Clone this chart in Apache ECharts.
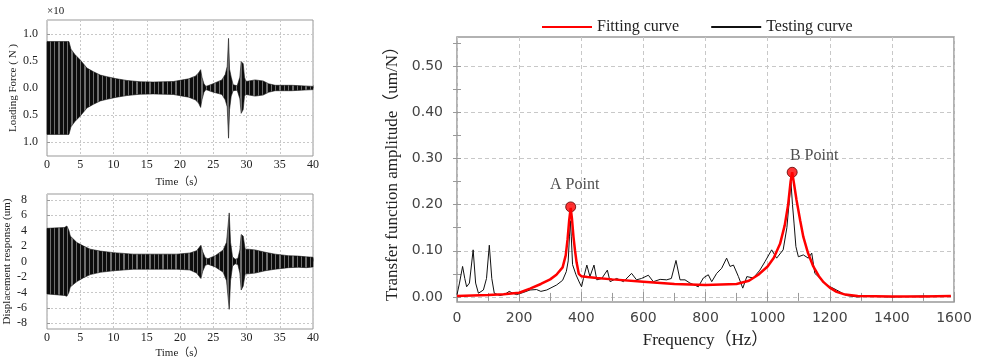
<!DOCTYPE html>
<html>
<head>
<meta charset="utf-8">
<script src="https://cdn.jsdelivr.net/npm/echarts@6/dist/echarts.min.js"></script>
<style>
  html, body { margin: 0; padding: 0; background: #fff; }
  #chart { width: 983px; height: 360px; }
</style>
</head>
<body>
<div id="chart"></div>
<script>
// loading force envelope (x10 N)
const forceTime = [0, 3.3, 3.6, 4.2, 5, 6, 7, 8, 9, 10.5, 12, 14, 16, 19, 21.3, 22.3, 22.8, 23.1, 23.3, 23.6,
  23.9, 24.8, 26.3, 26.8, 27.1, 27.3, 27.45, 27.7, 28.0, 28.6, 29.0, 29.2, 29.5, 29.7, 29.9, 31.3, 32.5, 33.3, 34.3, 36.8, 40]
const forceUpper = [0.86, 0.86, 0.72, 0.62, 0.52, 0.37, 0.30, 0.24, 0.21, 0.17, 0.14, 0.115, 0.11, 0.12, 0.17, 0.22, 0.28, 0.34, 0.2, 0.08,
  0.03, 0.07, 0.15, 0.25, 0.4, 0.92, 0.35, 0.2, 0.06, 0.04, 0.2, 0.49, 0.45, 0.2, 0.12, 0.15, 0.13, 0.08, 0.05, 0.05, 0.03]
const forceLower = [-0.86, -0.86, -0.72, -0.62, -0.52, -0.37, -0.30, -0.24, -0.21, -0.17, -0.14, -0.115, -0.11, -0.12, -0.17, -0.22, -0.28, -0.36, -0.22, -0.08,
  -0.03, -0.07, -0.12, -0.22, -0.35, -0.93, -0.4, -0.15, -0.05, -0.04, -0.2, -0.47, -0.4, -0.15, -0.12, -0.15, -0.13, -0.08, -0.05, -0.05, -0.03]

// displacement response envelope (um), lower-left panel
const dispTime = [0, 2.6, 3.0, 3.3, 3.5, 4.5, 5.5, 6.5, 8, 10, 13, 16.5, 19.5, 21.5, 22.5, 23.15, 23.4, 23.8, 24.2, 25.3,
  26.5, 27.0, 27.4, 27.6, 27.9, 28.3, 28.7, 29.0, 29.2, 29.5, 29.8, 30.2, 31.3, 32.8, 34.3, 36.3, 37.8, 39, 40]
const dispUpper = [4.3, 4.4, 4.6, 4.0, 3.3, 2.45, 2.0, 1.6, 1.35, 1.15, 0.95, 0.95, 0.95, 1.1, 1.4, 2.1, 1.3, 0.5, 0.35, 0.75,
  1.5, 2.5, 6.3, 2.5, 0.6, 0.3, 0.4, 1.5, 3.5, 3.3, 1.6, 1.6, 1.5, 1.2, 0.95, 0.75, 0.7, 0.6, 0.55]
const dispLower = [-4.2, -4.4, -4.5, -4.0, -3.3, -2.6, -2.1, -1.7, -1.4, -1.2, -1.0, -1.0, -1.0, -1.1, -1.5, -2.2, -1.3, -0.5, -0.35, -0.7,
  -1.4, -2.5, -6.2, -2.5, -0.6, -0.3, -0.4, -1.5, -3.7, -3.2, -1.6, -1.6, -1.5, -1.2, -1.0, -0.8, -0.75, -0.8, -0.7]

// transfer function (um/N) vs frequency (Hz)
const testFreq = [0, 8, 18, 25, 31, 40, 52, 60, 69, 85,
  95, 104, 112, 120, 138, 155, 168, 180, 192, 215,
  235, 256, 270, 289, 321, 340, 352, 358, 362, 365,
  368, 372, 383, 395, 401, 407, 418, 428, 441, 450,
  466, 484, 493, 514, 536, 562, 578, 594, 616, 632,
  654, 675, 690, 705, 718, 734, 750, 777, 793, 809,
  820, 836, 852, 868, 879, 890, 906, 920, 933, 954,
  975, 992, 1013, 1029, 1050, 1062, 1070, 1075, 1080, 1085,
  1091, 1099, 1115, 1131, 1142, 1152, 1168, 1190, 1222, 1254,
  1287, 1308, 1350, 1400, 1450, 1500, 1540, 1566, 1590]
const testAmp = [0.005, 0.03, 0.066, 0.04, 0.022, 0.03, 0.102, 0.03, 0.008, 0.015,
  0.04, 0.112, 0.04, 0.008, 0.003, 0.006, 0.012, 0.008, 0.005, 0.01,
  0.015, 0.016, 0.012, 0.015, 0.026, 0.036, 0.055, 0.078, 0.13, 0.165,
  0.13, 0.07, 0.048, 0.03, 0.022, 0.04, 0.069, 0.044, 0.069, 0.037,
  0.04, 0.058, 0.033, 0.04, 0.033, 0.051, 0.037, 0.04, 0.047, 0.033,
  0.038, 0.037, 0.04, 0.079, 0.037, 0.037, 0.03, 0.022, 0.041, 0.048,
  0.033, 0.051, 0.062, 0.084, 0.066, 0.069, 0.044, 0.019, 0.044, 0.041,
  0.058, 0.077, 0.102, 0.084, 0.102, 0.15, 0.21, 0.25, 0.2, 0.16,
  0.109, 0.087, 0.091, 0.084, 0.095, 0.051, 0.041, 0.026, 0.015, 0.003,
  0.0, 0.001, 0.001, 0.0, 0.001, 0.002, 0.001, 0.003, 0.001]

const fitFreq = [0, 50, 100, 150, 200, 235, 270, 300, 320, 340,
  350, 356, 361, 366, 370, 375, 380, 385, 392, 400,
  420, 450, 500, 600, 700, 800, 900, 940, 970, 1000,
  1020, 1040, 1055, 1066, 1074, 1079, 1085, 1093, 1105, 1115,
  1130, 1147, 1165, 1180, 1200, 1222, 1250, 1290, 1400, 1500, 1590]
const fitAmp = [0.002, 0.003, 0.004, 0.006, 0.009, 0.018, 0.028, 0.038, 0.048, 0.064,
  0.09, 0.125, 0.165, 0.193, 0.17, 0.13, 0.1, 0.075, 0.05, 0.045,
  0.043, 0.041, 0.038, 0.033, 0.028, 0.026, 0.028, 0.035, 0.048, 0.066,
  0.085, 0.115, 0.155, 0.2, 0.25, 0.27, 0.245, 0.21, 0.165, 0.13,
  0.095, 0.066, 0.045, 0.032, 0.02, 0.011, 0.005, 0.002, 0.001, 0.001, 0.002]

const peakNames = ['A Point', 'B Point']
const peakFreq = [366, 1079]
const peakAmp = [0.195, 0.27]

// tick values
const forceTicks = [-1, -0.5, 0, 0.5, 1]
const dispTicks = [-8, -6, -4, -2, 0, 2, 4, 6, 8]
const ampTicks = [0, 0.1, 0.2, 0.3, 0.4, 0.5]
const ampMinorTicks = [0, 0.05, 0.1, 0.15, 0.2, 0.25, 0.3, 0.35, 0.4, 0.45, 0.5, 0.55]

const SERIF = '"Liberation Serif", "Noto Sans CJK SC", serif'
const SANS = '"DejaVu Sans", sans-serif'

// striped fill so the dense oscillation reads like the original trace
function stripes() {
  const c = document.createElement('canvas')
  c.width = 13
  c.height = 4
  const g = c.getContext('2d')
  g.fillStyle = '#0c0c0c'
  g.fillRect(0, 0, 13, 4)
  g.fillStyle = '#6e6e6e'
  g.fillRect(2, 0, 1, 4)
  g.fillRect(6, 0, 2, 4)
  g.fillRect(11, 0, 1, 4)
  return c
}
const stripeFill = { image: stripes(), repeat: 'repeat' }

function envelope(xIdx, yIdx, times, upper, lower) {
  return {
    type: 'custom',
    xAxisIndex: xIdx,
    yAxisIndex: yIdx,
    silent: true,
    data: [[times[0], upper[0]]],
    renderItem(params, api) {
      const pts = []
      for (let i = 0; i < times.length; i++) pts.push(api.coord([times[i], upper[i]]))
      for (let i = times.length - 1; i >= 0; i--) pts.push(api.coord([times[i], lower[i]]))
      return { type: 'polygon', shape: { points: pts }, style: { fill: stripeFill, stroke: '#111', lineWidth: 0.6 } }
    }
  }
}

const leftX = (gridIndex, gap) => ({
  type: 'value', gridIndex, min: 0, max: 40, interval: 5,
  name: 'Time（s）', nameLocation: 'middle', nameGap: gap,
  nameTextStyle: { fontFamily: SERIF, fontSize: 11, color: '#222' },
  axisLine: { show: false },
  axisTick: { inside: true, length: 3, lineStyle: { color: '#999' } },
  axisLabel: { fontFamily: SERIF, fontSize: 12, color: '#222', margin: 3 },
  splitLine: { show: true, lineStyle: { color: '#c8c8c8', type: [2, 2] } }
})

const leftY = (gridIndex, min, max, ticks, name, gap, margin, fmt) => ({
  type: 'value', gridIndex, min, max,
  name, nameLocation: 'middle', nameGap: gap,
  nameTextStyle: { fontFamily: SERIF, fontSize: 11, color: '#222' },
  axisLine: { show: false },
  axisTick: { inside: true, length: 3, customValues: ticks, lineStyle: { color: '#999' } },
  axisLabel: { fontFamily: SERIF, fontSize: 12, color: '#222', margin, customValues: ticks, formatter: fmt },
  splitLine: { show: true, lineStyle: { color: '#c8c8c8', type: [2, 2] } }
})

const chart = echarts.init(document.getElementById('chart'))
chart.setOption({
  animation: false,
  backgroundColor: '#fff',
  grid: [
    { left: 47, top: 20, width: 266, height: 136, show: true, borderColor: '#999', borderWidth: 1 },
    { left: 47, top: 194, width: 266, height: 138, show: true, borderColor: '#999', borderWidth: 1 },
    { left: 457, top: 37, width: 497, height: 265, show: true, borderColor: '#999', borderWidth: 1.5 }
  ],
  graphic: [
    { type: 'text', left: 47, top: 6, style: { text: '×10', font: '11px ' + SERIF, fill: '#222' } }
  ],
  legend: {
    data: ['Fitting curve', 'Testing curve'],
    left: 537, top: 14,
    icon: 'rect', itemWidth: 50, itemHeight: 2, itemGap: 32,
    textStyle: { fontFamily: SERIF, fontSize: 16, color: '#222' }
  },
  xAxis: [
    leftX(0, 21),
    leftX(1, 19),
    {
      type: 'value', gridIndex: 2, min: 0, max: 1600, interval: 200,
      name: 'Frequency（Hz）', nameLocation: 'middle', nameGap: 30,
      nameTextStyle: { fontFamily: SERIF, fontSize: 17, color: '#222' },
      axisLine: { show: false },
      axisTick: { inside: true, length: 5, lineStyle: { color: '#999' } },
      minorTick: { show: true, splitNumber: 2, length: 4, lineStyle: { color: '#999' } },
      axisLabel: { fontFamily: SANS, fontSize: 14, color: '#444', margin: 9, formatter: v => String(v) },
      splitLine: { show: true, lineStyle: { color: '#c8c8c8', type: [4, 3] } }
    },
    {
      type: 'value', gridIndex: 2, position: 'top', min: 0, max: 1600, interval: 200,
      axisLine: { show: false },
      axisTick: { inside: true, length: 5, lineStyle: { color: '#999' } },
      minorTick: { show: true, splitNumber: 2, length: 4, lineStyle: { color: '#999' } },
      axisLabel: { show: false },
      splitLine: { show: false }
    }
  ],
  yAxis: [
    leftY(0, -1.26, 1.26, forceTicks, 'Loading Force ( N )', 27, 9, v => Math.abs(v).toFixed(1)),
    leftY(1, -8.75, 8.75, dispTicks, 'Displacement response (um)', 32, 20, v => String(v)),
    {
      type: 'value', gridIndex: 2, min: -0.011, max: 0.563,
      name: 'Transfer function amplitude（um/N）', nameLocation: 'middle', nameGap: 56,
      nameTextStyle: { fontFamily: SERIF, fontSize: 17, color: '#222' },
      axisLine: { show: false },
      axisTick: { inside: true, length: 4, customValues: ampMinorTicks, lineStyle: { color: '#999' } },
      axisLabel: { fontFamily: SANS, fontSize: 14, color: '#444', margin: 14, customValues: ampTicks, formatter: v => v.toFixed(2) },
      splitLine: { show: false }
    },
    {
      type: 'value', gridIndex: 2, position: 'right', min: -0.011, max: 0.563,
      axisLine: { show: false },
      axisTick: { inside: true, length: 4, customValues: ampMinorTicks, lineStyle: { color: '#999' } },
      axisLabel: { show: false },
      splitLine: { show: false }
    },
    {
      type: 'value', gridIndex: 2, position: 'left', min: -0.011, max: 0.563,
      axisLine: { show: false },
      axisTick: { show: false, customValues: ampTicks },
      axisLabel: { show: false, customValues: ampTicks },
      splitLine: { show: true, lineStyle: { color: '#c8c8c8', type: [4, 3] } }
    }
  ],
  series: [
    envelope(0, 0, forceTime, forceUpper, forceLower),
    envelope(1, 1, dispTime, dispUpper, dispLower),
    {
      name: 'Testing curve', type: 'line', xAxisIndex: 2, yAxisIndex: 2,
      data: testFreq.map((f, i) => [f, testAmp[i]]),
      showSymbol: false, symbol: 'none',
      lineStyle: { color: '#111', width: 1 }, itemStyle: { color: '#111' }
    },
    {
      name: 'Fitting curve', type: 'line', xAxisIndex: 2, yAxisIndex: 2,
      data: fitFreq.map((f, i) => [f, fitAmp[i]]),
      showSymbol: false, symbol: 'none',
      lineStyle: { color: '#ff0000', width: 2.5 }, itemStyle: { color: '#ff0000' }
    },
    {
      name: 'peaks', type: 'scatter', xAxisIndex: 2, yAxisIndex: 2,
      symbolSize: 10,
      itemStyle: { color: '#ff0000', borderColor: '#5a0000', borderWidth: 1 },
      data: peakFreq.map((f, i) => ({
        value: [f, peakAmp[i]],
        name: peakNames[i],
        label: { offset: i === 0 ? [4, -4] : [22, 2] }
      })),
      label: {
        show: true, position: 'top', distance: 5,
        formatter: p => p.name,
        fontFamily: SERIF, fontSize: 16, color: '#222'
      }
    }
  ]
})
</script>
</body>
</html>
